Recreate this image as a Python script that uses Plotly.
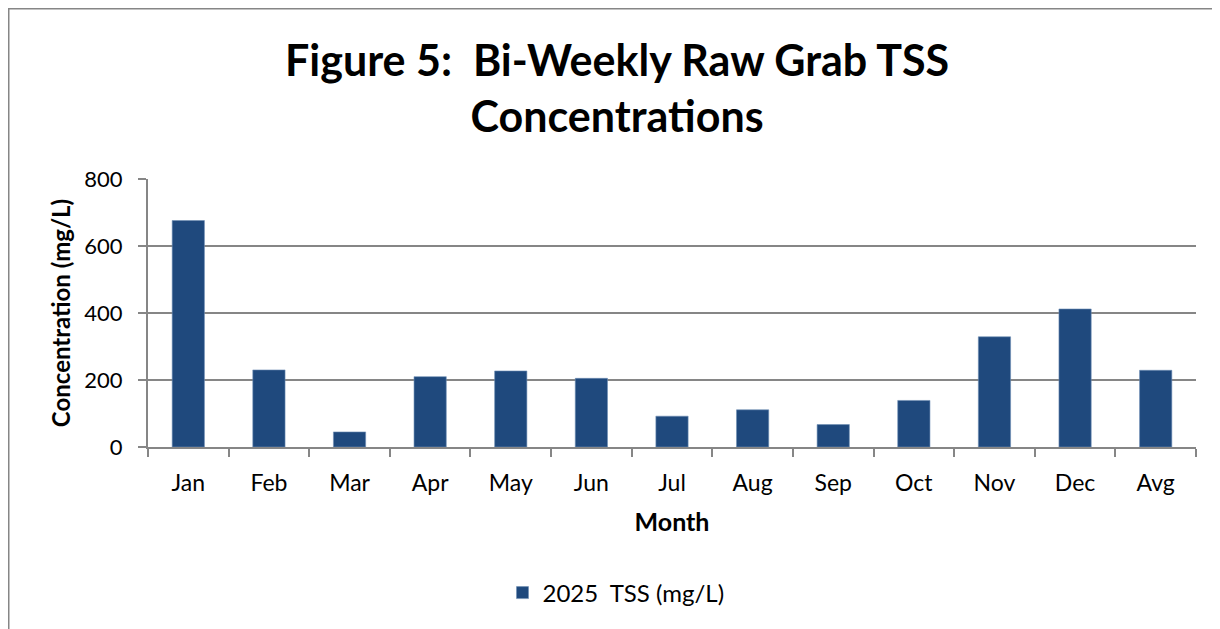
import plotly.graph_objects as go

categories = ["Jan", "Feb", "Mar", "Apr", "May", "Jun", "Jul", "Aug", "Sep", "Oct", "Nov", "Dec", "Avg"]
tss_2025 = [676, 230, 45, 210, 227, 205, 92, 111, 67, 139, 329, 412, 229]
series_name = "2025  TSS (mg/L)"
y_ticks = [0, 200, 400, 600, 800]

# page is shown with an 8px body margin, so figure pixel = page pixel - 8
W, H = 1220, 629
L, R, T, B = 140, 32, 171, 190
pw, ph = W - L - R, H - T - B

def px_x(p):
    return (p - L) / pw

def px_y(p):
    return (H - B - p) / ph

FONT = "Lato"
GRAY = "#868686"
BAR = "#1F497D"

fig = go.Figure()
fig.add_trace(go.Bar(
    x=categories, y=tss_2025, name=series_name,
    marker=dict(color=BAR, line=dict(color="#6F8FB5", width=0.6)),
    width=0.4, showlegend=True,
))

fig.update_layout(
    width=W, height=H,
    margin=dict(l=L, r=R, t=T, b=B),
    paper_bgcolor="white", plot_bgcolor="white",
    font=dict(family=FONT, color="black", size=23),
    showlegend=True,
    legend=dict(
        orientation="h", x=px_x(608), xanchor="center",
        y=px_y(585), yanchor="middle",
        font=dict(family=FONT, size=24),
    ),
    bargap=0.6,
)

fig.add_annotation(
    text="<b>Figure 5:  Bi-Weekly Raw Grab TSS<br>Concentrations</b>",
    xref="paper", yref="paper", x=px_x(609), y=px_y(80),
    xanchor="center", yanchor="middle", showarrow=False,
    font=dict(family=FONT, size=43, color="black"),
)

fig.update_xaxes(
    type="category", tickson="boundaries",
    showline=True, linecolor=GRAY, linewidth=2,
    ticks="outside", ticklen=8, tickcolor=GRAY, tickwidth=2,
    ticklabelstandoff=14,
    showgrid=False,
    tickfont=dict(family=FONT, size=23),
    title=dict(text="<b>Month</b>", font=dict(family=FONT, size=25), standoff=19),
)
fig.update_yaxes(
    range=[0, 800], tickvals=y_ticks,
    showline=True, linecolor=GRAY, linewidth=2,
    ticks="outside", ticklen=8, tickcolor=GRAY, tickwidth=2,
    ticklabelstandoff=11,
    showgrid=True, gridcolor=GRAY, gridwidth=2,
    zeroline=False,
    tickfont=dict(family=FONT, size=22),
    title=dict(text="<b>Concentration (mg/L)</b>", font=dict(family=FONT, size=24), standoff=7),
)

# chart-area border (only top and left visible in the crop)
fig.add_shape(type="rect", xref="paper", yref="paper",
              x0=px_x(0.75), x1=px_x(W + 20), y0=px_y(H + 20), y1=px_y(0.75),
              line=dict(color=GRAY, width=1.5), fillcolor="rgba(0,0,0,0)", layer="below")

fig.write_html("out.html")
